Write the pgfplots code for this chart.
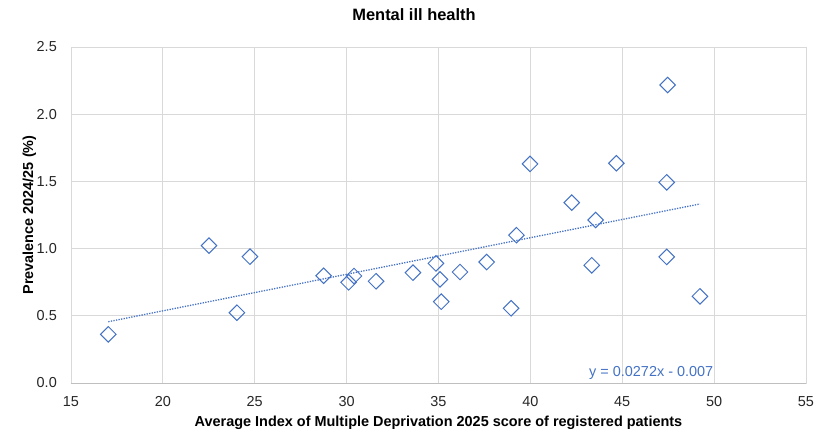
\documentclass[border=0pt]{standalone}
\usepackage{fontspec}
\setmainfont{Liberation Sans}
\usepackage{pgfplots}
\pgfplotsset{compat=1.18}

\definecolor{xlblue}{HTML}{4472C4}
\definecolor{gridgray}{HTML}{D9D9D9}
\definecolor{axisgray}{HTML}{BFBFBF}

\begin{document}
\begin{tikzpicture}
\begin{axis}[
    scale only axis,
    width=735bp, height=336bp,
    xmin=15, xmax=55, ymin=0, ymax=2.5,
    xtick={15,20,...,55},
    ytick={0,0.5,...,2.5},
    grid=major,
    grid style={gridgray, line width=0.8bp},
    axis line style={gridgray, line width=0.8bp},
    major tick length=0pt,
    /pgf/number format/assume math mode=true,
    y tick label style={/pgf/number format/fixed, /pgf/number format/fixed zerofill, /pgf/number format/precision=1},
    ticklabel style={font=\fontsize{14.5}{17}\selectfont, text=black!85},
    xticklabel style={anchor=base, inner sep=0pt, yshift=-23bp},
    yticklabel style={anchor=east, inner sep=0pt, xshift=-14bp},
    title={Mental ill health},
    title style={font=\bfseries\fontsize{16.5}{19}\selectfont, at={(axis description cs:0.4667,1)}, anchor=base, yshift=20.3bp, inner sep=0pt},
    xlabel={Average Index of Multiple Deprivation 2025 score of registered patients},
    xlabel style={font=\bfseries\fontsize{14.5}{17}\selectfont, at={(axis description cs:0.5,-0.1295)}, anchor=base, inner sep=0pt},
    ylabel={Prevalence 2024/25 (\%)},
    ylabel style={font=\bfseries\fontsize{14.5}{17}\selectfont, at={(axis description cs:-0.0517,0.5)}, anchor=base, inner sep=0pt},
    clip=false,
]
% trendline y = 0.0272x - 0.007 over the data range
\addplot[xlblue, line width=1.3bp, dash pattern=on 1.3bp off 1.3bp, no marks]
    coordinates {(17.03,0.456) (49.23,1.332)};

\addplot[only marks, mark=square, mark size=5.5bp,
    mark options={rotate=45, draw=xlblue, fill=white, line width=1bp, solid}]
    coordinates {
    (17.03,0.362) (22.51,1.022) (24.03,0.523) (24.74,0.940)
    (28.75,0.798) (30.11,0.749) (30.40,0.796) (31.60,0.757)
    (33.61,0.821) (34.86,0.890) (35.08,0.771) (35.15,0.605)
    (36.17,0.826) (37.62,0.900) (38.95,0.556) (39.24,1.100)
    (39.98,1.630) (42.25,1.342) (43.34,0.876) (43.55,1.213)
    (44.68,1.635) (47.47,2.217) (47.42,1.493) (47.42,0.938)
    (49.23,0.645)
    };

\draw[axisgray, line width=1bp] (rel axis cs:0,0) -- (rel axis cs:1,0);
\node[anchor=base west, inner sep=0pt, text=xlblue, font=\fontsize{14.5}{17}\selectfont]
    at (axis cs:43.19,0.047) {y = 0.0272x - 0.007};
\end{axis}
\useasboundingbox (-71bp,-63bp) rectangle (759bp,383bp);
\end{tikzpicture}
\end{document}
